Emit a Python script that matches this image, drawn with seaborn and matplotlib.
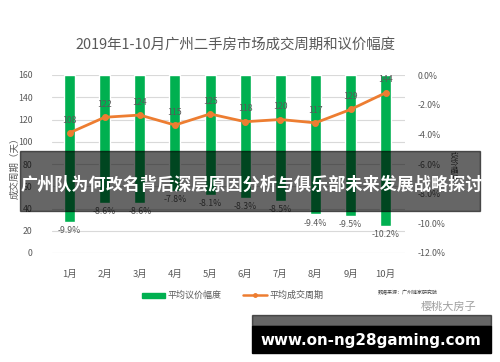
import matplotlib
matplotlib.use("Agg")
import matplotlib.pyplot as plt
import seaborn as sns
import pandas as pd
from matplotlib.patches import Rectangle
from matplotlib.lines import Line2D

months = ["1月", "2月", "3月", "4月", "5月", "6月", "7月", "8月", "9月", "10月"]
bargain = [-9.9, -8.6, -8.6, -7.8, -8.1, -8.3, -8.5, -9.4, -9.5, -10.2]
cycle = [108, 122, 124, 115, 125, 118, 120, 117, 129, 144]
left_ticks = [0, 20, 40, 60, 80, 100, 120, 140, 160]
right_ticks = [0, -2, -4, -6, -8, -10, -12]

sns.set_theme(style="white")
plt.rcParams['font.family'] = ['Noto Sans CJK SC', 'DejaVu Sans']

GREEN = "#00B050"
ORANGE = "#ED7D31"
GRAY = "#595959"

df = pd.DataFrame({"month": months, "bargain": bargain, "cycle": cycle})

fig = plt.figure(figsize=(5.0, 3.62), dpi=100)
W, H = 500, 362
ax = fig.add_axes([52 / W, 1 - 253 / H, 353 / W, (253 - 75) / H])
ax_r = ax.twinx()

# bars on right axis
sns.barplot(data=df, x="month", y="bargain", ax=ax_r, color=GREEN, width=0.31,
            saturation=1, zorder=2)
ax_r.set_ylim(-12, 0)
ax_r.set_yticks(right_ticks)
ax_r.set_yticklabels([f"{t:.1f}%" for t in right_ticks], fontsize=6.3, color=GRAY)
ax_r.tick_params(axis="y", length=0, pad=9)
ax_r.set_ylabel("")

# line on left axis
ax.set_zorder(ax_r.get_zorder() + 1)
ax.patch.set_visible(False)
sns.pointplot(data=df, x="month", y="cycle", ax=ax, color=ORANGE,
              markersize=3.5, linewidth=2)
ax.set_ylim(0, 160)
ax.set_yticks(left_ticks)
ax.set_yticklabels([str(t) for t in left_ticks], fontsize=6.3, color=GRAY)
ax.tick_params(axis="y", length=0, pad=14)
ax.tick_params(axis="x", length=0, pad=12, labelsize=6.8, labelcolor=GRAY)
ax.set_xlim(-0.5, 9.55)
ax.set_xlabel("")
ax.set_ylabel("")
for t in left_ticks:
    ax_r.axhline(t / 160 * 12 - 12, color="#d9d9d9", lw=0.8, zorder=0)

for a in (ax, ax_r):
    for s in a.spines.values():
        s.set_visible(False)

# data labels
for i, (b, c) in enumerate(zip(bargain, cycle)):
    ax.annotate(str(c), (i, c), xytext=(0, 6), textcoords="offset points",
                ha="center", va="bottom", fontsize=6.3, color=GRAY)
    ax_r.annotate(f"{b}%", (i, b), xytext=(0, -3), textcoords="offset points",
                  ha="center", va="top", fontsize=6.3, color=GRAY)

# axis titles
fig.text(15 / W, 1 - 166 / H, "成交周期（天）", rotation=90, ha="center", va="center",
         fontsize=6.8, color=GRAY)
fig.text(453 / W, 1 - 166 / H, "议价幅度", rotation=270, ha="center", va="center",
         fontsize=5.5, color="#404040")

# title
fig.text(235 / W, 1 - 45 / H, "2019年1-10月广州二手房市场成交周期和议价幅度",
         ha="center", va="center", fontsize=10.4, color=GRAY)

# legend
fig.patches.append(Rectangle((142 / W, 1 - 297.5 / H), 23 / W, 5 / H,
                             transform=fig.transFigure, color=GREEN))
fig.text(168 / W, 1 - 295 / H, "平均议价幅度", ha="left", va="center",
         fontsize=6.5, color=GRAY)
fig.lines.append(Line2D([243 / W, 267 / W], [1 - 295 / H, 1 - 295 / H],
                        transform=fig.transFigure, color=ORANGE, lw=1.8))
fig.lines.append(Line2D([255 / W], [1 - 295 / H], transform=fig.transFigure,
                        color=ORANGE, marker="o", ms=2.5, lw=0))
fig.text(270 / W, 1 - 295 / H, "平均成交周期", ha="left", va="center",
         fontsize=6.5, color=GRAY)

# source
fig.text(378 / W, 1 - 293 / H, "数据来源：广州链家研究院", ha="left", va="center",
         fontsize=3.6, color="#404040")
fig.text(421 / W, 1 - 307 / H, "樱桃大房子", ha="left", va="center",
         fontsize=8, color="#a0a0a0")

# overlay banner
fig.patches.append(Rectangle((20 / W, 1 - 211 / H), 460 / W, 60 / H,
                             transform=fig.transFigure, color="black", alpha=0.6,
                             zorder=10))
fig.text(21 / W, 1 - 185 / H, "广州队为何改名背后深层原因分析与俱乐部未来发展战略探讨",
         ha="left", va="center", fontsize=12.3, fontweight="bold", color="white",
         zorder=11)

# bottom url bar
fig.patches.append(Rectangle((252 / W, 1 - 326 / H), 239 / W, 11 / H,
                             transform=fig.transFigure, color="black", alpha=0.6,
                             zorder=10))
fig.patches.append(Rectangle((252 / W, 1 - 353 / H), 239 / W, 27 / H,
                             transform=fig.transFigure, color="black", zorder=10))
fig.text(371 / W, 1 - 340 / H, "www.on-ng28gaming.com", ha="center", va="center",
         fontsize=10.9, fontweight="bold", color="white", family="DejaVu Sans",
         zorder=11)

fig.savefig("out.png", dpi=100)
